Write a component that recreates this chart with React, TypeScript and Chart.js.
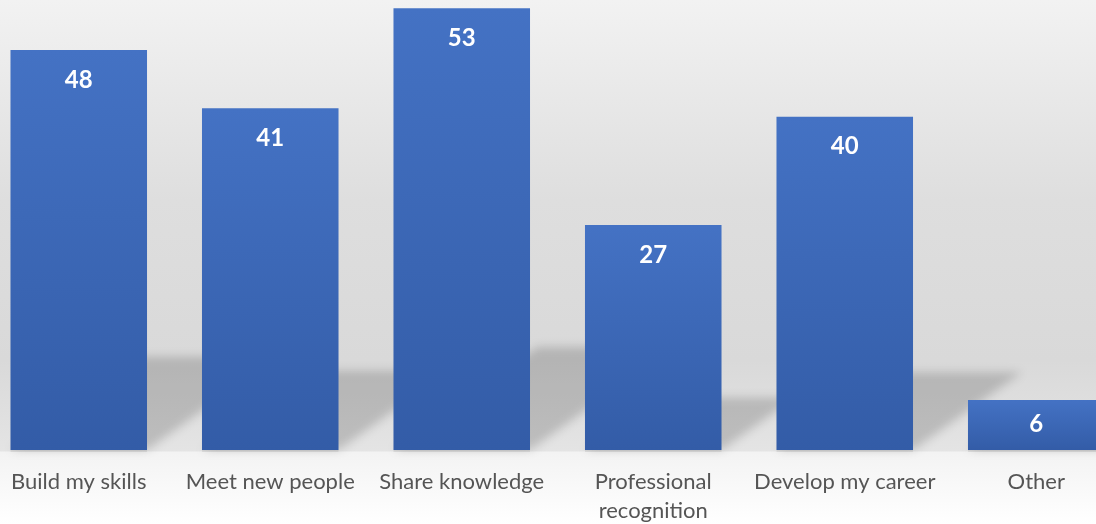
import React, { useEffect, useRef } from "react";
import { Chart, registerables } from "chart.js";

Chart.register(...registerables);

const categories: (string | string[])[] = [
  "Build my skills",
  "Meet new people",
  "Share knowledge",
  ["Professional", "recognition"],
  "Develop my career",
  "Other",
];
const values: number[] = [48, 41, 53, 27, 40, 6];
const yMax = 54;

const shadowPlugin = {
  id: "barShadows",
  beforeDatasetsDraw(chart: any) {
    const ctx = chart.ctx;
    const meta = chart.getDatasetMeta(0);
    ctx.save();
    meta.data.forEach((bar: any) => {
      const h = bar.base - bar.y;
      const hs = 0.233 * h;
      const dx = 1.4 * hs;
      const left = bar.x - bar.width / 2;
      const right = bar.x + bar.width / 2;
      ctx.filter = "blur(5px)";
      ctx.fillStyle = "rgba(0,0,0,0.17)";
      ctx.beginPath();
      ctx.moveTo(left, bar.base);
      ctx.lineTo(right, bar.base);
      ctx.lineTo(right + dx, bar.base - hs);
      ctx.lineTo(left + dx, bar.base - hs);
      ctx.closePath();
      ctx.fill();
      ctx.filter = "none";
      ctx.fillStyle = "rgba(0,0,0,0.07)";
      ctx.fillRect(left, bar.base, bar.width, 2);
    });
    ctx.restore();
  },
  afterDatasetsDraw(chart: any) {
    const ctx = chart.ctx;
    const meta = chart.getDatasetMeta(0);
    ctx.save();
    ctx.fillStyle = "#ffffff";
    ctx.font = "bold 24px Lato";
    ctx.textAlign = "center";
    ctx.textBaseline = "middle";
    meta.data.forEach((bar: any, i: number) => {
      const h = bar.base - bar.y;
      const off = Math.min(30, h / 2 - 1);
      ctx.fillText(String(values[i]), bar.x, bar.y + off);
    });
    ctx.restore();
  },
};

export default function App() {
  const ref = useRef<HTMLCanvasElement | null>(null);
  useEffect(() => {
    document.body.style.margin = "0";
    const canvas = ref.current!;
    const chart = new Chart(canvas, {
      type: "bar",
      data: {
        labels: categories as any,
        datasets: [
          {
            data: values,
            categoryPercentage: 1,
            barPercentage: 0.713,
            borderWidth: 0,
            backgroundColor: (c: any) => {
              const chart = c.chart;
              const ys = chart.scales && chart.scales.y;
              if (!ys || c.dataIndex === undefined) return "#4472c4";
              const top = ys.getPixelForValue(values[c.dataIndex]);
              const bottom = ys.getPixelForValue(0);
              if (!isFinite(top) || !isFinite(bottom) || top === bottom) return "#4472c4";
              const g = chart.ctx.createLinearGradient(0, top, 0, bottom);
              g.addColorStop(0, "#4472c4");
              g.addColorStop(1, "#335ca7");
              return g;
            },
          },
        ],
      },
      options: {
        responsive: false,
        animation: false,
        devicePixelRatio: 1,
        layout: { padding: 0 },
        plugins: {
          legend: { display: false },
          tooltip: { enabled: false },
          title: { display: false },
        },
        scales: {
          x: {
            grid: { display: false, drawTicks: false },
            border: { display: false },
            ticks: {
              color: "#555555",
              font: { family: "Lato", size: 22, lineHeight: 1.32 },
              padding: 17,
              maxRotation: 0,
              autoSkip: false,
            },
            afterFit: (s: any) => {
              s.height = 74;
            },
          },
          y: {
            display: false,
            min: 0,
            max: yMax,
          },
        },
      },
      plugins: [shadowPlugin],
    });
    return () => chart.destroy();
  }, []);
  return (
    <div
      style={{
        position: "relative",
        width: 1096,
        height: 524,
        overflow: "hidden",
        background:
          "linear-gradient(to bottom, #f2f2f2 0px, #dedede 200px, #d9d9d9 360px, #e4e4e4 451px, #f3f3f3 452px, #ffffff 524px)",
      }}
    >
      <canvas
        ref={ref}
        width={1149}
        height={524}
        style={{ position: "absolute", left: -17, top: 0, width: 1149, height: 524 }}
      />
    </div>
  );
}
